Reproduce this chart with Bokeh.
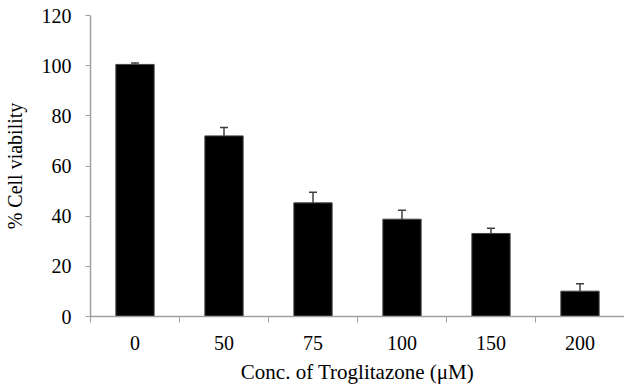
from bokeh.plotting import figure
from bokeh.models import FixedTicker, Whisker, ColumnDataSource, Range1d, TeeHead
from bokeh.embed import file_html
from bokeh.resources import INLINE

categories = ["0", "50", "75", "100", "150", "200"]
viability = [100.5, 72.0, 45.3, 38.8, 33.1, 10.1]
errors = [0.6, 3.3, 4.2, 3.6, 2.1, 3.0]

xs = [i + 0.5 for i in range(len(categories))]
src = ColumnDataSource(dict(
    x=xs, top=viability,
    upper=[v + e for v, e in zip(viability, errors)],
))

FONT = "Liberation Serif"
p = figure(width=624, height=389, output_backend="svg", toolbar_location=None,
           x_range=Range1d(0, len(categories)), y_range=Range1d(0, 120),
           min_border_left=89, min_border_right=0, min_border_top=15, min_border_bottom=73)
p.outline_line_color = None
p.xgrid.visible = False
p.ygrid.visible = False

p.vbar(x="x", top="top", width=0.43, bottom=0, source=src,
       fill_color="black", line_color="#444444", line_width=1)
w = Whisker(source=src, base="x", lower="top", upper="upper",
            line_color="#404040", line_width=1.5,
            upper_head=TeeHead(size=8, line_color="#404040", line_width=1.5),
            lower_head=None)
p.add_layout(w)

p.xaxis.ticker = FixedTicker(ticks=xs, minor_ticks=list(range(len(categories))))
p.xaxis.major_label_overrides = {x: c for x, c in zip(xs, categories)}
p.xaxis.major_tick_out = 0
p.xaxis.major_tick_in = 0
p.xaxis.minor_tick_out = 6
p.xaxis.minor_tick_in = 0
p.xaxis.minor_tick_line_color = "#a0a0a0"
p.xaxis.axis_label = "Conc. of Troglitazone (μM)"

p.yaxis.ticker = FixedTicker(ticks=[0, 20, 40, 60, 80, 100, 120])
p.yaxis.minor_tick_line_color = None
p.yaxis.major_tick_out = 5
p.yaxis.major_tick_in = 0
p.yaxis.axis_label = "% Cell viability"

for ax in (p.xaxis, p.yaxis):
    ax.axis_line_color = "#a0a0a0"
    ax.major_tick_line_color = "#a0a0a0"
    ax.axis_line_width = 1.5
    ax.major_label_text_font = FONT
    ax.major_label_text_font_size = "20px"
    ax.major_label_text_color = "black"
    ax.axis_label_text_font = FONT
    ax.axis_label_text_font_size = "20px"
    ax.axis_label_text_font_style = "normal"
    ax.axis_label_text_color = "black"

p.xaxis.axis_label_text_font_size = "21px"
p.xaxis.major_label_standoff = 13
p.xaxis.axis_label_standoff = 7
p.yaxis.major_label_standoff = 14
p.yaxis.axis_label_standoff = 13

open("out.html", "w").write(file_html(p, INLINE))
